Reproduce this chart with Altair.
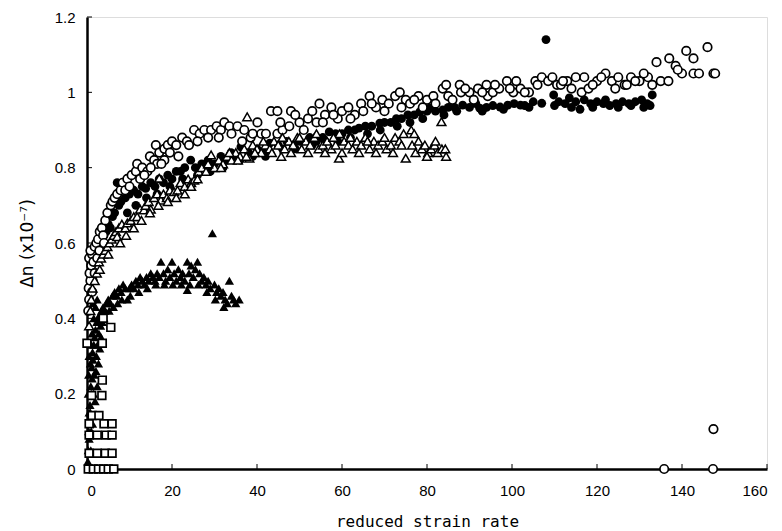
import altair as alt
import pandas as pd

# ---- data ----
# open circles
oc_x = [0.3, 0.5, 0.4, 0.8, 0.6, 1.0, 0.5, 1.2, 0.8, 1.5, 1.8, 2.2, 2.6, 3.0, 3.5, 3.8, 4.3, 4.8, 5.6, 6.0,
        6.5, 7.1, 7.9, 8.4, 9.5, 10.5, 11.5, 11.8, 13.0, 14.2, 14.8, 15.8, 16.2, 16.5, 17.0, 18.2, 18.2, 19.0,
        20.0, 21.0, 22.4, 23.5, 25.2, 26.5, 27.6, 29.2, 30.5, 31.5, 32.3, 33.5, 35.4, 37.0, 38.5, 40.1, 41.0,
        42.1, 43.3, 44.8, 44.8, 46.0, 47.6, 48.0, 50.0, 52.0, 54.0, 54.7, 56.0, 57.5, 59.0, 60.0, 61.5, 63.0,
        64.5, 66.5, 68.0, 69.5, 71.0, 72.5, 73.6, 75.0, 76.0, 78.0, 80.0, 81.5, 83.7, 85.0, 87.7, 88.0, 90.0,
        92.0, 94.0, 94.3, 95.5, 97.0, 98.8, 100.3, 102.0, 104.0, 105.5, 107.0, 108.5, 110.6, 111.5, 113.0,
        115.0, 116.4, 118.0, 120.0, 122.0, 123.5, 124.3, 126.5, 128.0, 130.0, 132.0, 133.0, 134.0, 135.0,
        136.8, 137.0, 138.5, 140.0, 141.0, 142.7, 142.7, 144.0, 146.0, 147.4, 147.8, 135.8, 147.3, 147.4,
        1.2, 1.8, 2.4, 2.9, 4.0, 9.0, 10.0, 12.5, 13.5, 15.0, 17.5, 19.5, 21.5, 24.0, 26.0, 28.5, 31.0, 34.0,
        36.5, 39.0, 45.5, 49.0, 51.0, 53.0, 55.5, 58.0, 62.0, 65.0, 67.0, 70.0, 74.0, 77.0, 79.0, 82.0, 84.5,
        86.0, 89.0, 91.0, 93.0, 96.0, 99.5, 101.0, 103.0, 106.0, 109.5, 112.0, 114.0, 117.0, 119.0, 121.0,
        125.0, 127.0, 129.0, 131.0, 139.0]
oc_y = [0.42, 0.45, 0.48, 0.50, 0.52, 0.54, 0.56, 0.57, 0.58, 0.55, 0.59, 0.60, 0.61, 0.63, 0.64, 0.62, 0.66,
        0.68, 0.70, 0.71, 0.72, 0.73, 0.74, 0.76, 0.77, 0.78, 0.79, 0.81, 0.80, 0.79, 0.83, 0.82, 0.86, 0.81,
        0.84, 0.85, 0.82, 0.86, 0.87, 0.86, 0.88, 0.87, 0.90, 0.89, 0.90, 0.90, 0.91, 0.90, 0.92, 0.91, 0.91,
        0.90, 0.88, 0.92, 0.89, 0.89, 0.95, 0.95, 0.89, 0.90, 0.91, 0.95, 0.92, 0.93, 0.92, 0.97, 0.94, 0.96,
        0.93, 0.95, 0.96, 0.94, 0.97, 0.99, 0.96, 0.98, 0.97, 0.99, 1.00, 0.98, 0.97, 0.99, 0.98, 0.99, 1.01,
        0.99, 1.02, 1.00, 1.00, 1.01, 1.02, 0.99, 1.00, 1.01, 1.03, 1.00, 1.01, 1.00, 1.03, 1.04, 1.03, 1.02,
        1.02, 1.03, 1.04, 1.00, 1.01, 1.03, 1.05, 1.03, 1.01, 1.02, 1.04, 1.03, 1.04, 1.02, 1.08, 1.03, 1.03,
        1.09, 1.07, 1.05, 1.11, 1.09, 1.05, 1.05, 1.12, 1.05, 1.05, 0.0, 0.0, 0.106,
        0.47, 0.52, 0.56, 0.58, 0.60, 0.74, 0.75, 0.77, 0.78, 0.80, 0.81, 0.84, 0.83, 0.86, 0.87, 0.88, 0.88,
        0.89, 0.87, 0.89, 0.92, 0.94, 0.90, 0.95, 0.92, 0.94, 0.93, 0.95, 0.97, 0.95, 0.96, 0.98, 0.96, 0.97,
        1.02, 0.98, 1.01, 0.98, 1.00, 1.02, 1.01, 1.03, 1.00, 1.02, 1.04, 1.03, 1.01, 1.04, 1.02, 1.04, 1.04,
        1.02, 1.03, 1.05, 1.06]

# filled circles
fc_x = [1.5, 2.0, 2.5, 3.0, 3.5, 4.0, 4.5, 5.0, 5.5, 6.0, 6.5, 7.1, 7.5, 8.0, 8.5, 9.0, 10.0, 11.0, 12.0,
        13.0, 13.8, 15.0, 16.0, 17.0, 18.0, 19.0, 20.0, 21.0, 22.0, 23.0, 24.4, 25.5, 27.0, 28.5, 30.0, 31.5,
        33.0, 33.9, 35.0, 36.2, 38.0, 40.0, 41.5, 43.0, 45.0, 47.0, 48.5, 50.0, 52.4, 54.0, 55.5, 57.0, 58.5,
        60.0, 61.5, 63.0, 64.0, 65.5, 67.0, 68.9, 70.0, 71.5, 72.8, 74.0, 75.5, 77.0, 78.3, 80.0, 80.7, 82.0,
        83.7, 85.0, 86.5, 88.4, 90.0, 91.5, 92.4, 94.0, 95.5, 97.2, 99.0, 100.5, 102.0, 103.0, 105.0, 107.0,
        108.0, 109.8, 111.0, 112.5, 113.5, 115.0, 116.0, 117.0, 118.5, 120.0, 121.5, 123.0, 124.5, 126.0,
        127.5, 129.0, 130.5, 131.8, 132.5, 133.0,
        9.5, 11.5, 14.0, 16.5, 19.5, 22.5, 26.0, 29.0, 32.0, 36.0, 39.0, 42.0, 46.0, 49.0, 53.0, 56.0, 59.0,
        62.0, 66.0, 69.0, 73.0, 76.0, 79.0, 84.0, 87.0, 93.0, 98.0, 104.0, 110.0, 114.0, 119.0, 122.0, 125.0,
        128.0, 131.0]
fc_y = [0.50, 0.55, 0.57, 0.60, 0.58, 0.62, 0.63, 0.65, 0.64, 0.67, 0.68, 0.76, 0.70, 0.71, 0.75, 0.72, 0.73,
        0.74, 0.73, 0.75, 0.745, 0.76, 0.75, 0.77, 0.76, 0.78, 0.77, 0.79, 0.79, 0.80, 0.82, 0.80, 0.81, 0.82,
        0.81, 0.83, 0.82, 0.84, 0.83, 0.855, 0.84, 0.85, 0.84, 0.865, 0.86, 0.87, 0.86, 0.87, 0.88, 0.87, 0.88,
        0.895, 0.89, 0.89, 0.90, 0.90, 0.905, 0.91, 0.91, 0.918, 0.92, 0.92, 0.93, 0.93, 0.94, 0.94, 0.948, 0.95,
        0.958, 0.95, 0.953, 0.96, 0.96, 0.966, 0.96, 0.97, 0.958, 0.96, 0.965, 0.961, 0.966, 0.97, 0.966, 0.965,
        0.975, 0.971, 1.14, 0.993, 0.975, 0.97, 0.985, 0.975, 0.955, 0.98, 0.97, 0.975, 0.97, 0.965, 0.97, 0.975,
        0.97, 0.975, 0.98, 0.97, 0.965, 0.993,
        0.68, 0.70, 0.72, 0.73, 0.75, 0.77, 0.78, 0.79, 0.80, 0.82, 0.83, 0.83, 0.85, 0.85, 0.86, 0.87, 0.87,
        0.88, 0.89, 0.90, 0.91, 0.92, 0.93, 0.94, 0.95, 0.95, 0.955, 0.96, 0.965, 0.96, 0.96, 0.98, 0.96, 0.965,
        0.96]

# open triangles
ot_x = [0.5, 0.8, 1.0, 1.3, 1.8, 2.3, 2.8, 3.3, 3.8, 4.3, 4.8, 5.3, 5.8, 6.3, 6.8, 7.1, 7.5, 8.2, 9.0, 9.5,
        10.3, 11.0, 11.8, 12.5, 13.4, 13.8, 14.5, 15.0, 15.8, 16.5, 17.0, 17.4, 18.0, 18.8, 19.5, 20.5, 21.3,
        22.0, 23.0, 23.8, 24.5, 25.2, 26.3, 27.0, 28.0, 29.2, 30.0, 31.0, 32.0, 33.0, 34.0, 35.0, 36.0, 37.0,
        37.7, 38.2, 39.0, 40.0, 41.0, 42.0, 43.0, 44.0, 45.0, 45.7, 46.5, 47.5, 48.5, 49.5, 50.5, 51.5, 52.5,
        53.5, 54.5, 55.5, 56.5, 57.5, 58.5, 59.3, 59.4, 60.5, 61.5, 62.5, 63.5, 64.5, 65.5, 66.5, 67.5, 68.5,
        69.5, 70.5, 71.5, 72.5, 73.5, 74.5, 75.0, 76.3, 76.5, 77.3, 78.0, 78.8, 79.5, 80.3, 81.0, 81.8, 82.5,
        83.4, 83.5, 84.3,
        3.0, 5.0, 7.8, 9.2, 11.0, 12.8, 14.8, 16.8, 19.0, 21.0, 23.0, 24.5, 26.0, 28.5, 31.5, 33.5, 35.5, 37.5,
        39.5, 41.5, 43.5, 46.0, 48.0, 50.0, 52.0, 54.0, 56.0, 58.0, 60.0, 62.0, 64.0, 66.0, 68.0, 70.0, 72.0,
        74.0, 77.0, 80.0, 82.0, 84.5]
ot_y = [0.38, 0.42, 0.45, 0.48, 0.50, 0.52, 0.55, 0.56, 0.57, 0.58, 0.59, 0.60, 0.61, 0.62, 0.63, 0.617,
        0.64, 0.65, 0.64, 0.653, 0.66, 0.67, 0.67, 0.69, 0.688, 0.70, 0.71, 0.69, 0.72, 0.73, 0.772, 0.714,
        0.73, 0.72, 0.74, 0.736, 0.74, 0.76, 0.75, 0.77, 0.76, 0.767, 0.79, 0.80, 0.79, 0.834, 0.80, 0.82, 0.81,
        0.83, 0.82, 0.84, 0.83, 0.85, 0.935, 0.825, 0.86, 0.85, 0.84, 0.86, 0.85, 0.87, 0.86, 0.83, 0.85, 0.87,
        0.86, 0.88, 0.85, 0.87, 0.86, 0.88, 0.85, 0.86, 0.87, 0.85, 0.86, 0.825, 0.89, 0.87, 0.86, 0.85, 0.87,
        0.86, 0.88, 0.85, 0.87, 0.86, 0.87, 0.85, 0.86, 0.88, 0.87, 0.89, 0.825, 0.90, 0.86, 0.84, 0.87, 0.85,
        0.86, 0.84, 0.85, 0.86, 0.84, 0.922, 0.85, 0.85,
        0.53, 0.57, 0.60, 0.62, 0.64, 0.66, 0.68, 0.70, 0.71, 0.72, 0.73, 0.75, 0.77, 0.81, 0.80, 0.84, 0.82,
        0.83, 0.84, 0.87, 0.84, 0.88, 0.84, 0.88, 0.84, 0.89, 0.84, 0.88, 0.84, 0.88, 0.84, 0.87, 0.84, 0.88,
        0.84, 0.86, 0.89, 0.83, 0.87, 0.83]

# filled triangles
ft_x = [0.2, 0.3, 0.5, 0.4, 0.6, 0.8, 0.7, 1.0, 0.9, 1.2, 1.1, 1.4, 1.3, 1.6, 1.8, 2.0, 2.3, 2.6, 3.0, 3.4,
        3.8, 4.2, 4.6, 5.0, 5.5, 6.0, 6.5, 7.0, 7.5, 8.0, 8.5, 9.0, 9.5, 10.0, 10.5, 11.0, 11.5, 12.0, 12.5,
        13.0, 13.5, 14.0, 14.5, 15.0, 15.5, 16.0, 16.5, 17.0, 17.4, 18.0, 18.5, 19.0, 19.5, 20.0, 20.5, 21.0,
        21.5, 22.0, 22.5, 23.0, 23.6, 23.6, 24.0, 24.5, 25.0, 25.5, 26.0, 26.5, 27.0, 27.5, 28.0, 28.5, 29.0,
        29.5, 30.0, 30.5, 31.0, 31.5, 32.0, 32.5, 33.0, 33.5, 34.0, 34.5, 35.0, 35.8,
        0.5, 1.0, 0.8, 1.5, 1.7, 2.2, 2.5, 2.8, 1.2, 1.6, 2.0, 3.2, 0.3, 0.5, 0.6, 0.4, 4.0, 5.2, 6.2, 7.2,
        8.2, 10.2, 12.2, 14.2, 16.2, 18.2, 20.2, 22.2, 24.2, 26.2, 28.2, 30.2, 32.2,
        0.9, 1.3, 1.9, 2.4, 2.1, 2.7, 3.0, 3.3, 1.0, 0.6, 1.4, 2.4, 3.6]
ft_y = [0.02, 0.05, 0.08, 0.10, 0.12, 0.15, 0.17, 0.20, 0.22, 0.24, 0.27, 0.29, 0.31, 0.33, 0.35, 0.37, 0.39,
        0.40, 0.41, 0.42, 0.43, 0.42, 0.44, 0.45, 0.44, 0.46, 0.47, 0.46, 0.48, 0.47, 0.49, 0.48, 0.45, 0.48,
        0.49, 0.48, 0.50, 0.49, 0.51, 0.50, 0.49, 0.51, 0.50, 0.52, 0.51, 0.50, 0.52, 0.51, 0.55, 0.52, 0.50,
        0.53, 0.51, 0.55, 0.52, 0.50, 0.53, 0.51, 0.52, 0.50, 0.55, 0.475, 0.52, 0.54, 0.51, 0.53, 0.55, 0.52,
        0.50, 0.51, 0.49, 0.50, 0.48, 0.626, 0.49, 0.47, 0.48, 0.46, 0.47, 0.45, 0.44, 0.50, 0.46, 0.45, 0.44,
        0.45,
        0.15, 0.10, 0.28, 0.20, 0.25, 0.30, 0.33, 0.36, 0.36, 0.40, 0.43, 0.38, 0.20, 0.30, 0.38, 0.25, 0.40,
        0.42, 0.43, 0.44, 0.45, 0.46, 0.47, 0.48, 0.49, 0.49, 0.49, 0.49, 0.49, 0.49, 0.47, 0.45, 0.43,
        0.05, 0.12, 0.18, 0.22, 0.26, 0.28, 0.32, 0.35, 0.33, 0.42, 0.44, 0.45, 0.39]

# open squares
os_x = [0.0, 3.6, 3.8, 5.6, 3.6, 1.1, 3.5, 1.2, 2.8, 0.5, 4.0, 5.9, 0.5, 2.4, 4.5, 5.9, 0.5, 2.4, 4.3, 5.9,
        0.3, 1.5, 2.7, 3.9, 5.0, 6.3]
os_y = [0.334, 0.334, 0.40, 0.376, 0.236, 0.195, 0.195, 0.142, 0.142, 0.12, 0.12, 0.12, 0.09, 0.09, 0.09,
        0.09, 0.042, 0.042, 0.042, 0.042, 0.0, 0.0, 0.0, 0.0, 0.0, 0.0]

x_ticks = [0, 20, 40, 60, 80, 100, 120, 140, 160]
y_ticks = [0, 0.2, 0.4, 0.6, 0.8, 1.0, 1.2]

W, H = 680, 452

xs = alt.Scale(domain=[0, 160], nice=False, zero=False)
ys = alt.Scale(domain=[0, 1.2], nice=False, zero=False)
x_axis = alt.Axis(values=x_ticks, title="reduced strain rate", grid=False, ticks=False, tickSize=0,
                  labelPadding=14, titlePadding=15, labelFont="Liberation Sans", labelFontSize=15,
                  titleFont="DejaVu Sans Mono", titleFontSize=16, titleFontWeight="normal",
                  domainColor="black", domainWidth=2.5, labelColor="black", titleColor="black")
y_axis = alt.Axis(values=y_ticks, title="Δn (x10⁻⁷)", format="~g", grid=False, ticks=False, tickSize=0,
                  labelPadding=12, titlePadding=18, labelFont="Liberation Sans", labelFontSize=15,
                  titleFont="DejaVu Sans", titleFontSize=17, titleFontWeight="normal",
                  domainColor="black", domainWidth=2.5, labelColor="black", titleColor="black")

X = alt.X("x:Q", scale=xs, axis=x_axis)
Y = alt.Y("y:Q", scale=ys, axis=y_axis)


def df(xv, yv):
    return pd.DataFrame({"x": xv, "y": yv})


fc = alt.Chart(df(fc_x, fc_y)).mark_point(shape="circle", filled=True, color="black", size=78,
                                          opacity=1).encode(x=X, y=Y)
ft = alt.Chart(df(ft_x, ft_y)).mark_point(shape="triangle-up", filled=True, color="black", size=85,
                                          opacity=1).encode(x=X, y=Y)
osq = alt.Chart(df(os_x, os_y)).mark_point(shape="square", filled=True, fill="white", stroke="black",
                                           strokeWidth=1.7, size=60, opacity=1).encode(x=X, y=Y)
oc = alt.Chart(df(oc_x, oc_y)).mark_point(shape="circle", filled=True, fill="white", stroke="black",
                                          strokeWidth=1.7, size=72, opacity=1).encode(x=X, y=Y)
ot = alt.Chart(df(ot_x, ot_y)).mark_point(shape="triangle-up", filled=True, fill="white", stroke="black",
                                          strokeWidth=1.5, size=78, opacity=1).encode(x=X, y=Y)

# small inward tick marks
xt = alt.Chart(pd.DataFrame({"x": x_ticks})).mark_rule(color="black", strokeWidth=1).encode(
    x=X, y=alt.value(H), y2=alt.value(H - 5))
yt = alt.Chart(pd.DataFrame({"y": y_ticks})).mark_rule(color="black", strokeWidth=1).encode(
    y=Y, x=alt.value(0), x2=alt.value(5))

chart = alt.layer(xt, yt, fc, ft, osq, oc, ot).properties(
    width=W, height=H,
    autosize=alt.AutoSizeParams(type="none"),
    padding={"left": 79, "top": 9, "right": 7, "bottom": 62},
).configure_view(stroke="black", strokeWidth=2).configure(background="white")

chart.save("out.html", embed_options={"renderer": "svg", "actions": False})
